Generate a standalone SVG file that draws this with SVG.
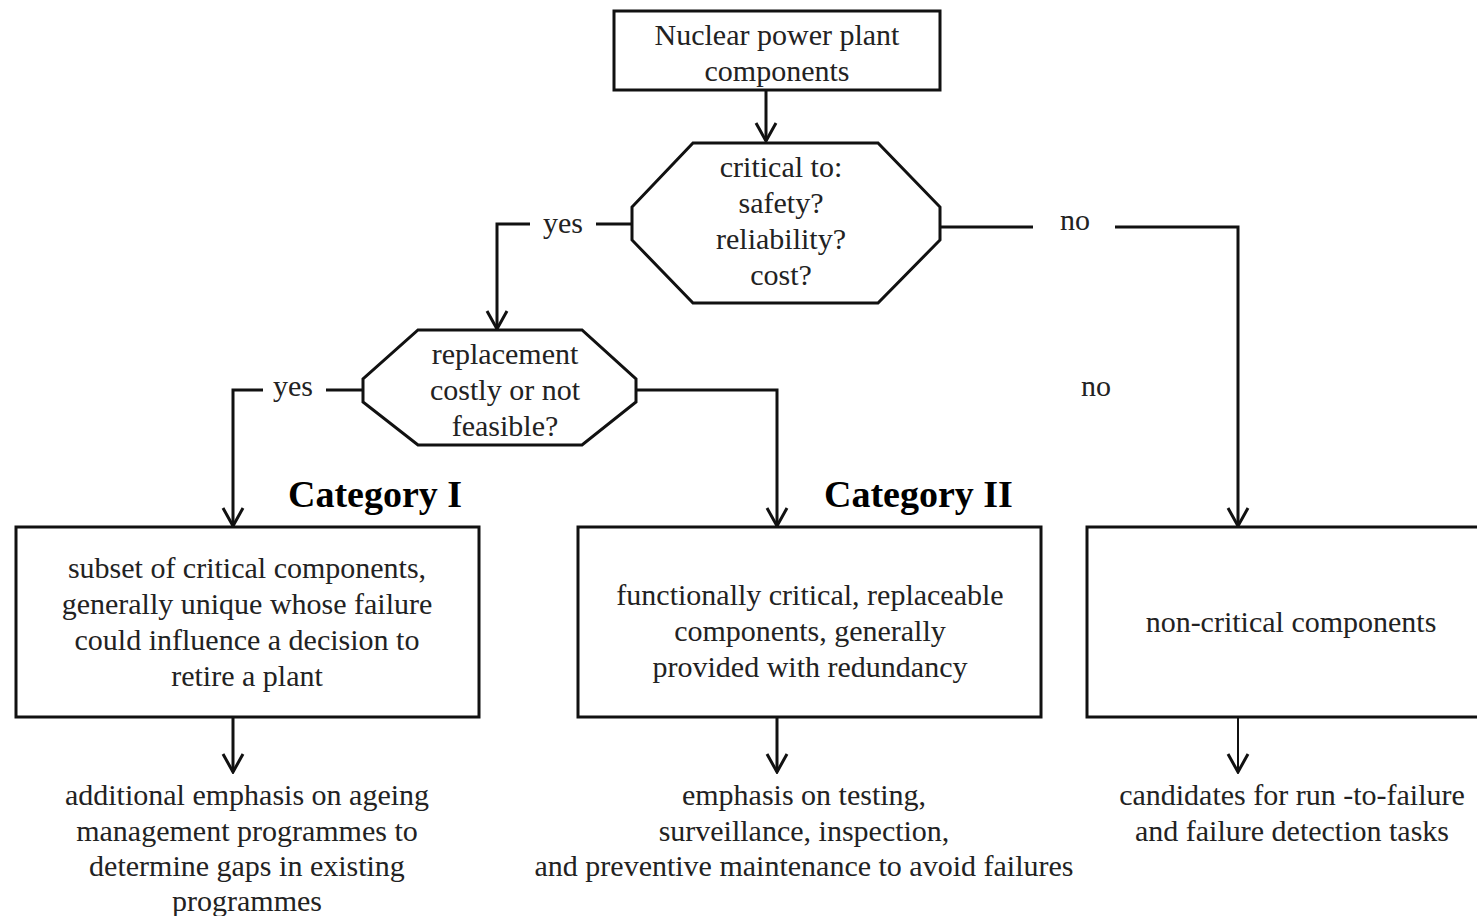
<svg xmlns="http://www.w3.org/2000/svg" width="1477" height="916" viewBox="0 0 1477 916">
<defs>
<style>
.t{font-family:"Liberation Serif","Times New Roman",serif;font-size:30px;fill:#222;text-anchor:middle}
.h{font-family:"Liberation Serif","Times New Roman",serif;font-size:38px;font-weight:bold;fill:#000}
.s{fill:#fff;stroke:#111;stroke-width:3}
.c{fill:none;stroke:#111;stroke-width:3}
</style>
<marker id="v" viewBox="0 0 24 24" refX="22" refY="12" markerWidth="24" markerHeight="24" markerUnits="userSpaceOnUse" orient="auto">
<path d="M4,2 L22,12 L4,22" fill="none" stroke="#111" stroke-width="3"/>
</marker>
</defs>
<rect width="1477" height="916" fill="#fff"/>
<g id="connectors">
<path class="c" d="M766,90 V141" marker-end="url(#v)"/>
<path class="c" d="M632,224 H596 M530,224 H497 V329" marker-end="url(#v)"/>
<path class="c" d="M940,227 H1033"/>
<path class="c" d="M1115,227 H1238 V526" marker-end="url(#v)"/>
<path class="c" d="M363,390 H326 M263,390 H233 V526" marker-end="url(#v)"/>
<path class="c" d="M636,390 H777 V526" marker-end="url(#v)"/>
<path class="c" d="M233,717 V772" marker-end="url(#v)"/>
<path class="c" d="M777,717 V772" marker-end="url(#v)"/>
<path class="c" d="M1238,717 V772" style="stroke-width:2" marker-end="url(#v)"/>
<text class="t" x="563" y="233">yes</text>
<text class="t" x="1075" y="230">no</text>
<text class="t" x="293" y="396">yes</text>
<text class="t" x="1096" y="396">no</text>
</g>
<g id="n-start">
<rect class="s" x="614" y="11" width="326" height="79"/>
<text class="t" x="777" y="45">Nuclear power plant</text>
<text class="t" x="777" y="81">components</text>
</g>
<g id="n-critical">
<polygon class="s" points="693,143 878,143 940,207 940,240 878,303 693,303 632,240 632,207"/>
<text class="t" x="781" y="177">critical to:</text>
<text class="t" x="781" y="213">safety?</text>
<text class="t" x="781" y="249">reliability?</text>
<text class="t" x="781" y="285">cost?</text>
</g>
<g id="n-replace">
<polygon class="s" points="418,330 582,330 636,379 636,402 582,445 418,445 363,402 363,379"/>
<text class="t" x="505" y="364">replacement</text>
<text class="t" x="505" y="400">costly or not</text>
<text class="t" x="505" y="436">feasible?</text>
</g>
<g id="n-cat1">
<text class="h" x="288" y="507">Category I</text>
<rect class="s" x="16" y="527" width="463" height="190"/>
<text class="t" x="247" y="578">subset of critical components,</text>
<text class="t" x="247" y="614">generally unique whose failure</text>
<text class="t" x="247" y="650">could influence a decision to</text>
<text class="t" x="247" y="686">retire a plant</text>
</g>
<g id="n-cat2">
<text class="h" x="824" y="507">Category II</text>
<rect class="s" x="578" y="527" width="463" height="190"/>
<text class="t" x="810" y="605">functionally critical, replaceable</text>
<text class="t" x="810" y="641">components, generally</text>
<text class="t" x="810" y="677">provided with redundancy</text>
</g>
<g id="n-noncrit">
<rect class="s" x="1087" y="527" width="400" height="190"/>
<text class="t" x="1291" y="632">non-critical components</text>
</g>
<g id="n-out1">
<text class="t" x="247" y="805">additional emphasis on ageing</text>
<text class="t" x="247" y="841">management programmes to</text>
<text class="t" x="247" y="876">determine gaps in existing</text>
<text class="t" x="247" y="911">programmes</text>
</g>
<g id="n-out2">
<text class="t" x="804" y="805">emphasis on testing,</text>
<text class="t" x="804" y="841">surveillance, inspection,</text>
<text class="t" x="804" y="876">and preventive maintenance to avoid failures</text>
</g>
<g id="n-out3">
<text class="t" x="1292" y="805">candidates for run -to-failure</text>
<text class="t" x="1292" y="841">and failure detection tasks</text>
</g>
</svg>
